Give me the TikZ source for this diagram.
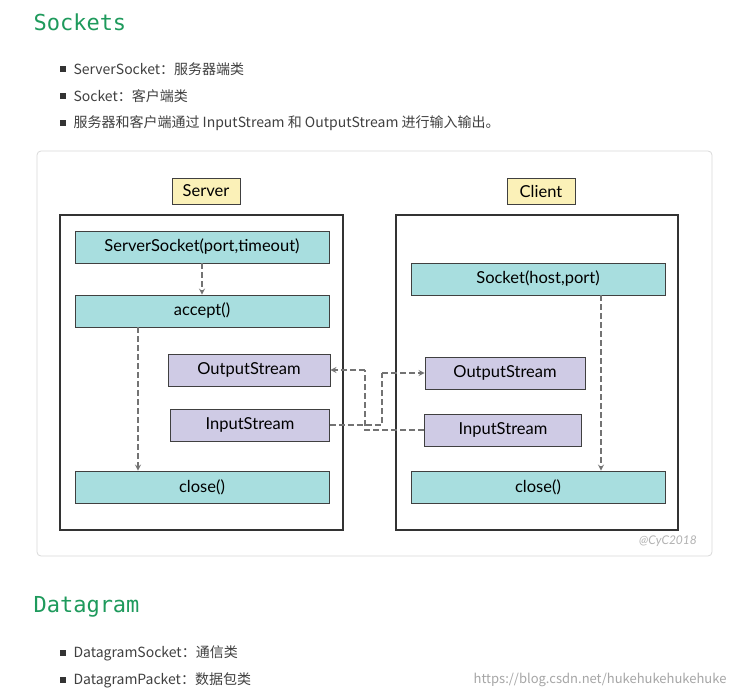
\documentclass[tikz,border=0pt]{standalone}
\usepackage{fontspec}
\setmainfont{Lato}
\newfontfamily\cjk{Noto Sans CJK SC}
\newfontfamily\mono{DejaVu Sans Mono}
\usetikzlibrary{positioning}
\definecolor{headgreen}{HTML}{1E9A5C}
\definecolor{teal}{HTML}{A8DEDF}
\definecolor{lilac}{HTML}{CFCBE5}
\definecolor{tag}{HTML}{FBF1B8}
\tikzset{
  head/.style={anchor=west,text=headgreen,font=\mono\fontsize{22}{25}\selectfont},
  item/.style={anchor=west,text=black!75,font=\cjk\fontsize{14}{16}\selectfont},
  dot/.style={fill=black!80,minimum size=6pt,inner sep=0pt},
  box/.style={draw=black!75,line width=0.9pt,minimum height=32pt,font=\fontsize{16.5}{19}\selectfont,inner sep=0pt},
  tbox/.style={box,fill=teal,minimum width=254pt},
  pbox/.style={box,fill=lilac},
  lbl/.style={box,fill=tag,minimum width=68pt,minimum height=26pt},
  flow/.style={dash pattern=on 6pt off 3pt,draw=black!55,line width=1.6pt,-stealth},
  link/.style={dash pattern=on 6pt off 3pt,draw=black!55,line width=1.6pt}
}
\begin{document}
\begin{tikzpicture}[x=1pt,y=-1pt]
\useasboundingbox[fill=white] (0,0) rectangle (734,696);
\node[head] (sockets) at (30,22) {Sockets};
\foreach \y/\t [count=\i] in {69/ServerSocket：服务器端类,96/Socket：客户端类,123/服务器和客户端通过 InputStream 和 OutputStream 进行输入输出。}{
  \node[dot] (b\i) at (63,\y) {};
  \node[item] (t\i) at (70,\y) {\t};
}
% frame
\draw[black!15,rounded corners=4pt,line width=0.8pt] (37,151) rectangle (712,556);
\draw[black!80,line width=1.1pt] (60,215) rectangle (343,530);
\draw[black!80,line width=1.1pt] (396,215) rectangle (678,530);
\node[lbl] (server) at (206,191) {Server};
\node[lbl] (client) at (541,191) {Client};
% server side
\node[tbox] (ss) at (202,247) {ServerSocket(port,timeout)};
\node[tbox] (acc) at (202,311) {accept()};
\node[pbox,minimum width=162pt] (sout) at (249,370) {OutputStream};
\node[pbox,minimum width=159pt] (sin) at (250,425) {InputStream};
\node[tbox] (sclose) at (202,487) {close()};
% client side
\node[tbox] (sock) at (538,279) {Socket(host,port)};
\node[pbox,minimum width=160pt] (cout) at (505,373) {OutputStream};
\node[pbox,minimum width=157pt] (cin) at (503,430) {InputStream};
\node[tbox] (cclose) at (538,487) {close()};
% flows
\draw[flow] (ss) -- (acc);
\draw[flow] (acc.south -| 138,0) -- (sclose.north -| 138,0);
\draw[flow] (sock.south -| 601,0) -- (cclose.north -| 601,0);
\coordinate (k1) at (382,425);
\coordinate (k2) at (382,373);
\coordinate (k3) at (365,430);
\coordinate (k4) at (365,370);
\draw[link] (sin.east) -- (k1) -- (k2);
\draw[flow] (k2) -- (cout.west);
\draw[link] (cin.west) -- (k3) -- (k4);
\draw[flow] (k4) -- (sout.east);
\node[text=black!30,font=\itshape\fontsize{12}{14}\selectfont] (mark) at (668,541) {@CyC2018};
% datagram
\node[head] (datagram) at (30,607) {Datagram};
\foreach \y/\t [count=\i] in {653/DatagramSocket：通信类,680/DatagramPacket：数据包类}{
  \node[dot] (d\i) at (63,\y) {};
  \node[item] (u\i) at (70,\y) {\t};
}
\node[anchor=east,text=black!35,font=\cjk\fontsize{13}{15}\selectfont] (url) at (730,680) {https://blog.csdn.net/hukehukehukehuke};
\end{tikzpicture}
\end{document}
